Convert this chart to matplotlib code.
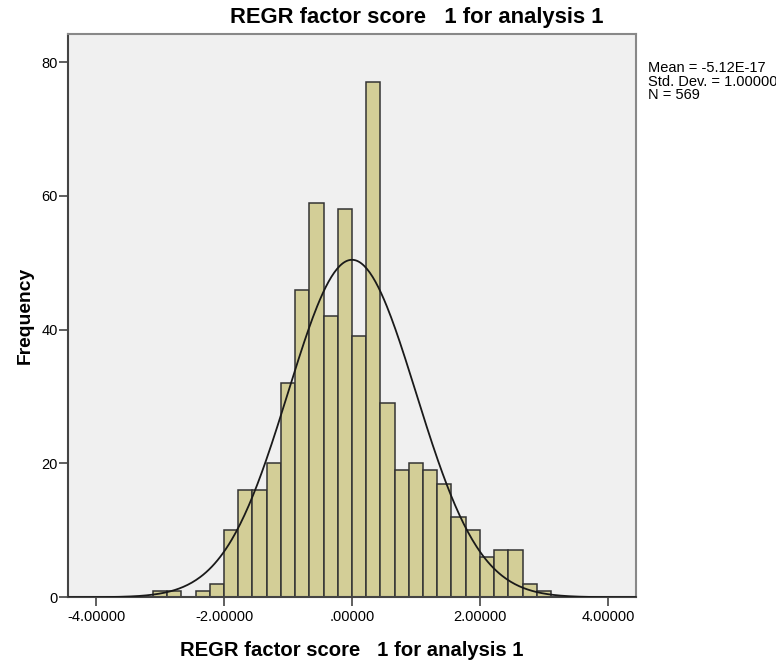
import numpy as np
import matplotlib.pyplot as plt

plt.rcParams['font.family'] = ['Liberation Sans', 'DejaVu Sans']

# ================== 数据 ==================
bin_width = 2 / 9
bin_edges = np.arange(-14, 15) * bin_width
counts = [1, 1, 0, 1, 2, 10, 16, 16, 20, 32, 46, 59, 42, 58,
          39, 77, 29, 19, 20, 19, 17, 12, 10, 6, 7, 7, 2, 1]
mean_val = -5.12e-17
std_val = 1.0
n_val = 569
x_ticks = [-4, -2, 0, 2, 4]
x_ticklabels = ['-4.00000', '-2.00000', '.00000', '2.00000', '4.00000']
y_ticks = [0, 20, 40, 60, 80]
title = 'REGR factor score   1 for analysis 1'

# ================== 绘图 ==================
fig = plt.figure(figsize=(7.76, 6.61), dpi=100)
ax = fig.add_axes([0.0876, 0.0964, 0.732, 0.8522])
ax.set_facecolor('#f0f0f0')

ax.bar(bin_edges[:-1], counts, width=bin_width, align='edge',
       color='#d3ce97', edgecolor='#333333', linewidth=1.1, zorder=2)

# 正态曲线
xs = np.linspace(-4.44, 4.44, 400)
ys = n_val * bin_width / (std_val * np.sqrt(2 * np.pi)) * np.exp(-0.5 * ((xs - mean_val) / std_val) ** 2)
ax.plot(xs, ys, color='#1a1a1a', linewidth=1.3, zorder=3)

ax.set_xlim(-4.44, 4.44)
ax.set_ylim(0, 84.2)
ax.set_xticks(x_ticks)
ax.set_xticklabels(x_ticklabels)
ax.set_yticks(y_ticks)
ax.tick_params(direction='out', length=6.5, width=1.2, color='#444444',
               labelsize=10.5)
ax.tick_params(axis='x', pad=3)
ax.tick_params(axis='y', pad=1)
for s in ['left', 'bottom']:
    ax.spines[s].set_color('#444444')
    ax.spines[s].set_linewidth(1.5)
for s in ['top', 'right']:
    ax.spines[s].set_color('#888888')
    ax.spines[s].set_linewidth(1.5)

ax.set_xlabel(title, fontsize=14.6, fontweight='bold', labelpad=12)
ax.set_ylabel('Frequency', fontsize=13.9, fontweight='bold', labelpad=5)
fig.text(417 / 776, 1 - 17.5 / 661, title, fontsize=15.8, fontweight='bold',
         ha='center', va='center')

stats = f'Mean = {mean_val:.2E}\nStd. Dev. = {std_val:.5f}\nN = {n_val}'
fig.text(648 / 776, 1 - 61 / 661, stats, fontsize=10.5, ha='left', va='top',
         linespacing=0.97)

plt.savefig('out.png', dpi=100)
